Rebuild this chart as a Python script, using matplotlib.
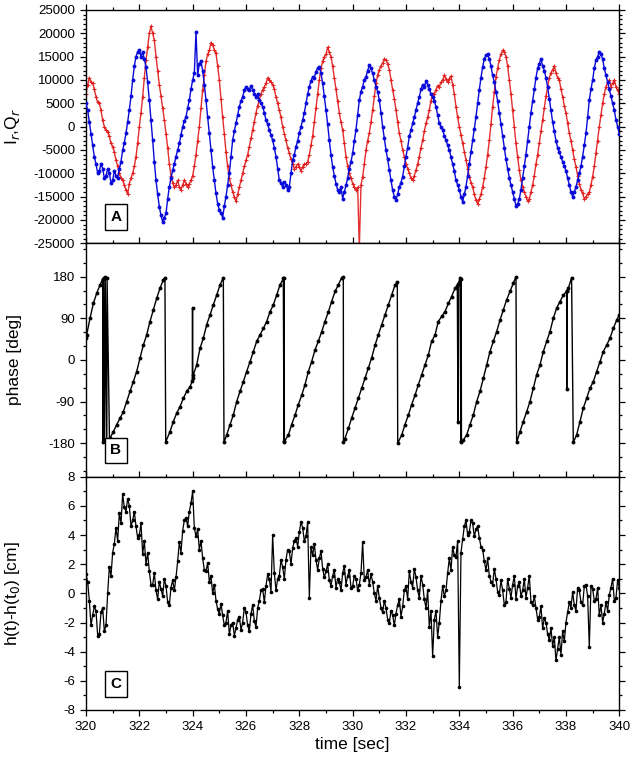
import numpy as np
import matplotlib
matplotlib.use("Agg")
import matplotlib.pyplot as plt
from matplotlib.ticker import MultipleLocator

plt.rcParams['font.family'] = ['Liberation Sans', 'DejaVu Sans']
plt.rcParams['axes.unicode_minus'] = False

# ---------------- data ----------------
t_start = 320.0
t_step = 0.0625

I_r = [5000, 3500, 1000, -1500, -4000, -6500, -8000, -10000, -9500, -8000,
       -9000, -11000, -10500, -9000, -10000, -12000, -11500, -9500, -10500, -11000,
       -9000, -7500, -5000, -3500, -1400, 1000, 3600, 6500, 10000, 13000,
       15000, 16000, 16500, 15000, 16000, 14500, 12800, 9500, 5700, 1500,
       -2900, -7500, -11500, -14500, -17200, -19000, -20400, -19500, -18600, -15500,
       -12900, -11000, -9300, -8000, -6400, -5000, -3600, -1800, 0, 1200,
       2100, 4000, 5700, 8000, 10000, 11500, 20300, 11000, 13500, 14000,
       12000, 9000, 5700, 2000, -1400, -5000, -8600, -11500, -14300, -16500,
       -17900, -18500, -19500, -17000, -15000, -12500, -10000, -6500, -2900, -1000,
       700, 2500, 4300, 5500, 6400, 7800, 8600, 8000, 7900, 8700,
       7900, 7000, 6400, 7000, 5700, 5000, 4300, 3000, 1400, 500,
       -700, -1800, -2900, -4500, -6400, -9000, -11500, -12000, -12900, -11800,
       -12500, -13500, -12900, -10000, -7200, -6000, -4300, -3000, -1400, 0,
       1400, 3000, 5000, 7000, 8600, 9800, 10700, 10500, 11800, 12500,
       12800, 11500, 9300, 6500, 3600, 500, -2900, -6000, -8600, -10500,
       -12200, -13500, -14000, -13000, -15400, -14000, -12600, -11000, -9000, -7500,
       -5700, -3000, -700, 2500, 5700, 7500, 8600, 10000, 10700, 12000,
       13200, 12500, 11400, 10000, 8600, 7500, 5700, 3000, 0, -2500,
       -5000, -7000, -9300, -11500, -13600, -15000, -15700, -14500, -12900, -12000,
       -10700, -8500, -6400, -4500, -2100, -700, 700, 2000, 3600, 5000,
       6400, 8000, 9000, 8500, 9700, 9000, 8000, 7000, 6400, 5500,
       4300, 2500, 700, 0, -700, -2000, -2900, -4000, -5000, -6500,
       -7900, -9500, -11500, -12500, -13600, -15000, -16100, -14500, -12900, -10500,
       -7900, -5500, -2900, -500, 2100, 5000, 7900, 10500, 12800, 14500,
       15300, 15500, 14500, 13000, 11000, 9500, 7500, 5500, 3000, 500,
       -2000, -4500, -7000, -9000, -11000, -12500, -14000, -15500, -17000, -16500,
       -15500, -13500, -11000, -8500, -6000, -3000, 0, 3000, 5500, 8000,
       10500, 12500, 13500, 14500, 13000, 12000, 10500, 8500, 6000, 3500,
       1000, -1000, -3000, -4500, -5500, -6500, -7500, -8500, -9500, -11000,
       -12500, -14000, -15000, -14000, -12900, -11500, -10000, -8500, -6400, -4000,
       -1400, 2000, 5700, 8000, 10000, 12500, 14300, 15000, 16000, 15500,
       14500, 12500, 11000, 9500, 8000, 6500, 5000, 3500, 1500, 0,
       -1500]

Q_r = [7000, 9000, 10500, 9500, 9300, 8000, 6400, 5200, 5000, 3500,
       1400, 0, -700, -1200, -2100, -3500, -4300, -5500, -7200, -8500,
       -10000, -11000, -11500, -12500, -13600, -14500, -12200, -11000, -10000, -8500,
       -6400, -3500, 0, 3000, 6400, 10500, 14300, 17000, 20000, 21500,
       20000, 18500, 15000, 12000, 9000, 6500, 4000, 1500, -1500, -4500,
       -8000, -10500, -12000, -13000, -12500, -11500, -12900, -13500, -12500, -11500,
       -12200, -13000, -12200, -11500, -10500, -8500, -6000, -3000, 0, 4000,
       7900, 11000, 14000, 15500, 16400, 18000, 17500, 16500, 15700, 13000,
       10000, 6000, 2000, -1500, -5500, -8500, -11000, -12500, -14000, -15000,
       -16000, -14500, -12900, -11500, -10000, -8500, -7200, -6000, -4300, -2500,
       -700, 1000, 2900, 4500, 5700, 7000, 7900, 8500, 9300, 10500,
       10000, 9500, 9000, 8000, 6400, 5000, 3600, 2000, 0, -1500,
       -2900, -4500, -5700, -7000, -7900, -9000, -8600, -8000, -8600, -9500,
       -8600, -8000, -8000, -7500, -6000, -4000, -2000, 1000, 4000, 7000,
       10000, 12500, 14000, 15000, 15500, 17000, 16000, 15000, 13000, 10500,
       8000, 5500, 3000, 1000, -700, -3500, -6400, -8500, -10000, -11000,
       -12200, -13000, -13600, -13000, -26000, -12500, -10700, -8000, -5000, -3000,
       -1400, 1000, 3600, 6500, 9300, 11000, 12200, 13000, 13600, 14500,
       14300, 13500, 12200, 10000, 7900, 6000, 3600, 1000, -1400, -3000,
       -5000, -6500, -7900, -9000, -10000, -11000, -11500, -10500, -9300, -8000,
       -6400, -4500, -2900, -1000, 700, 2000, 3600, 5500, 7100, 7000,
       7900, 8800, 8600, 9500, 10000, 11000, 10300, 9500, 10300, 10800,
       9000, 7000, 4300, 2000, 0, -1800, -3600, -5500, -7200, -9000,
       -10700, -12000, -12900, -14500, -15700, -16500, -15500, -14500, -12900, -11000,
       -8600, -6000, -2900, 500, 4300, 7500, 10700, 12500, 14300, 15500,
       16400, 16000, 15000, 13000, 10000, 7000, 3600, 0, -3600, -6500,
       -9300, -11500, -12900, -14000, -15000, -16000, -15500, -14000, -12500, -10500,
       -8000, -6000, -3500, -1000, 1500, 4000, 6500, 8500, 10500, 11500,
       12200, 13000, 11500, 10500, 10000, 8000, 6400, 4500, 2900, 800,
       -1400, -3000, -5000, -7000, -8600, -10500, -12200, -13500, -14300, -15500,
       -15000, -14500, -14000, -12500, -10700, -8500, -5700, -3000, 0, 2500,
       5000, 7000, 8600, 9500, 10000, 8500, 9300, 10000, 8600, 7800,
       7000]

phase_t = [320.000, 320.025, 320.150, 320.275, 320.400, 320.525, 320.625,
           320.630, 320.660, 320.700, 320.720, 320.780, 320.790, 320.880, 320.900,
           321.025, 321.150, 321.275, 321.400, 321.525, 321.650, 321.775, 321.900,
           322.025, 322.150, 322.275, 322.400, 322.525, 322.650, 322.775, 322.900,
           322.960, 322.990, 323.150, 323.275, 323.400, 323.525, 323.650, 323.775,
           323.900, 323.990, 323.995, 324.000, 324.025, 324.150, 324.275, 324.400,
           324.525, 324.650, 324.775, 324.900, 325.025, 325.150, 325.175, 325.275,
           325.400, 325.525, 325.650, 325.775, 325.900, 326.025, 326.150, 326.275,
           326.400, 326.525, 326.650, 326.775, 326.900, 327.025, 327.150, 327.275,
           327.400, 327.425, 327.430, 327.440, 327.590, 327.710, 327.840, 327.960,
           328.090, 328.210, 328.340, 328.460, 328.590, 328.710, 328.840, 328.960,
           329.090, 329.210, 329.340, 329.460, 329.590, 329.650, 329.655, 329.710,
           329.840, 329.960, 330.090, 330.210, 330.340, 330.460, 330.590, 330.710,
           330.840, 330.960, 331.090, 331.210, 331.340, 331.460, 331.590, 331.675,
           331.690, 331.840, 331.960, 332.090, 332.210, 332.340, 332.460, 332.590,
           332.710, 332.840, 332.960, 333.090, 333.210, 333.340, 333.460, 333.590,
           333.710, 333.840, 333.925, 333.950, 333.960, 334.025, 334.060, 334.070,
           334.080, 334.150, 334.275, 334.400, 334.525, 334.650, 334.775, 334.900,
           335.025, 335.150, 335.275, 335.400, 335.525, 335.650, 335.775, 335.900,
           336.025, 336.125, 336.150, 336.275, 336.400, 336.525, 336.650, 336.775,
           336.900, 337.025, 337.150, 337.275, 337.400, 337.525, 337.650, 337.775,
           337.900, 338.025, 338.030, 338.040, 338.090, 338.210, 338.275, 338.400,
           338.525, 338.650, 338.775, 338.900, 339.025, 339.150, 339.275, 339.400,
           339.525, 339.650, 339.775, 339.900, 340.000]
phase_deg = [47, 54, 90, 122, 144, 162, 175,
             -178, 178, -176, 179, -176, 178, -172, -169,
             -155, -140, -126, -112, -90, -68, -47, -25,
             4, 32, 54, 83, 108, 133, 155, 173,
             178, -177, -155, -133, -115, -101, -83, -68,
             -58, -45, 112, -40, -32, -11, 25, 47,
             76, 97, 119, 140, 162, 178, -178, -162,
             -140, -119, -90, -68, -47, -25, -4, 18,
             40, 54, 68, 83, 104, 119, 140, 162,
             176, -178, 177, -176, -162, -140, -119, -97,
             -76, -54, -25, -4, 22, 40, 61, 83,
             104, 126, 148, 162, 178, 179, -178, -170,
             -148, -126, -104, -83, -61, -40, -18, 4,
             32, 54, 76, 97, 119, 140, 162, 169,
             -180, -162, -140, -119, -97, -76, -54, -32,
             -11, 11, 40, 54, 83, 94, 104, 122,
             137, 155, 160, -133, 165, 176, -178, 175,
             -176, -173, -162, -140, -119, -90, -68, -40,
             -11, 18, 40, 61, 86, 108, 130, 148,
             166, 180, -178, -155, -133, -112, -90, -61,
             -32, -11, 18, 40, 61, 90, 112, 126,
             140, 148, -63, 150, 155, 178, -178, -162,
             -133, -104, -83, -61, -47, -25, -4, 18,
             32, 47, 68, 86, 97]

h_cm = [1.3, 0.8, -0.5, -2.2, -1.5, -0.9, -1.2, -2.9, -2.8, -1.3,
        -1.0, -2.6, -2.2, 0.0, 1.8, 1.2, 2.8, 3.4, 4.5, 3.6,
        5.5, 4.8, 6.8, 5.9, 5.6, 6.5, 6.0, 4.6, 5.0, 5.6,
        4.6, 3.8, 4.0, 4.8, 2.7, 3.6, 2.0, 2.8, 1.5, 0.6,
        0.6, 1.4, 0.2, -0.4, 0.8, 0.3, -0.2, 1.0, 0.5, -0.6,
        -0.8, 0.4, 0.9, 0.2, 1.1, 2.2, 3.5, 2.8, 4.3, 5.0,
        5.2, 4.6, 5.6, 6.2, 7.0, 4.5, 3.9, 4.4, 3.0, 3.6,
        2.4, 1.6, 1.5, 2.1, 0.8, 1.2, 0.0, 0.6, -0.5, -1.1,
        -1.4, -0.7, -1.5, -2.2, -2.0, -1.2, -2.8, -2.2, -2.0, -2.9,
        -2.4, -1.8, -1.6, -2.5, -2.0, -1.0, -1.3, -2.2, -2.6, -1.4,
        -0.8, -1.9, -2.3, -1.0, -0.5, 0.2, 0.3, -0.6, 0.5, 1.3,
        1.0, 0.1, 4.0, 1.4, 0.2, 1.0, 1.2, 2.3, 1.8, 1.0,
        2.3, 3.0, 2.9, 2.0, 3.1, 3.6, 3.8, 3.2, 4.2, 4.9,
        4.5, 3.6, 3.9, 4.9, -0.3, 3.2, 2.6, 3.4, 2.3, 1.6,
        2.4, 2.9, 1.7, 1.1, 1.5, 2.0, 0.9, 0.5, 1.2, 1.6,
        0.4, 1.0, 0.8, 0.2, 1.4, 1.9, 0.6, 1.2, 1.6, 0.4,
        0.5, 1.2, 1.0, 0.2, 0.6, 1.4, 3.5, 0.9, 1.1, 1.6,
        0.6, 1.3, 0.8, 0.0, -0.5, 0.5, -0.3, -1.0, -1.3, -0.5,
        -1.0, -1.8, -2.0, -1.2, -1.5, -2.2, -1.4, -0.8, -0.4, -1.6,
        -0.9, 0.2, 0.5, -0.4, 1.5, 0.8, 0.4, 1.7, 1.1, 0.2,
        -0.3, 1.2, 0.6, -0.4, -1.0, 0.2, -2.3, -1.2, -4.3, -1.8,
        -1.2, -3.0, -2.0, -0.5, 0.5, -0.2, 0.2, 1.4, 2.4, 1.6,
        3.2, 2.6, 2.5, 3.6, -6.4, 2.8, 3.7, 4.6, 5.0, 4.0,
        4.2, 5.0, 4.8, 3.9, 4.4, 4.6, 3.8, 3.2, 3.0, 2.2,
        1.6, 2.4, 1.2, 0.8, 0.6, 1.7, 1.0, 0.1, -0.1, 0.9,
        0.2, -0.8, -0.6, 1.0, 0.3, -0.3, 0.6, 1.2, -0.4, 0.5,
        0.8, -0.2, 0.2, 1.0, -0.3, 0.4, 1.2, -0.6, -0.8, -0.2,
        -1.0, -1.8, -1.6, -0.9, -2.4, -1.7, -2.0, -2.8, -3.2, -2.4,
        -3.6, -3.0, -4.6, -3.8, -3.0, -4.2, -2.6, -3.3, -2.0, -1.3,
        -0.6, -1.0, 0.1, -0.8, -1.2, 0.4, 0.2, -0.6, -0.8, 0.5,
        0.6, -0.2, -3.7, 0.5, 0.3, -0.5, -0.4, 0.4, -1.5, -0.8,
        -2.0, -1.4, -0.6, -1.2, -0.1, 0.4, 1.0, -0.5, -0.3, 0.9,
        0.4]

panel_letters = ["A", "B", "C"]
ylabels = [r"I$_r$,Q$_r$", "phase [deg]", r"h(t)-h(t$_0$) [cm]"]
xlabel = "time [sec]"

# ---------------- figure ----------------
t_iq = t_start + t_step * np.arange(len(I_r))
t_h = t_start + t_step * np.arange(len(h_cm))

fig = plt.figure(figsize=(6.3, 7.67), dpi=100)
left, width = 86 / 630, (619.3 - 86) / 630
ph = 233.3 / 767
bottoms = [1 - 243.3 / 767, 1 - 476.6 / 767, 1 - 710 / 767]
axes = [fig.add_axes([left, b, width, ph]) for b in bottoms]

axA, axB, axC = axes
axA.plot(t_iq, Q_r, color='#e01818', lw=1.0, marker='+', ms=3, mew=0.8,
         alpha=0.9, zorder=2)
axA.plot(t_iq, I_r, color='#0a0ad8', lw=1.0, marker='o', ms=2.8, mew=0,
         zorder=3)
axA.set_ylim(-25000, 25000)
axA.yaxis.set_major_locator(MultipleLocator(5000))
axA.yaxis.set_minor_locator(MultipleLocator(1000))

axB.plot(phase_t, phase_deg, color='black', lw=1.0, marker='o', ms=2.8, mew=0)
axB.set_ylim(-252, 252)
axB.set_yticks([-180, -90, 0, 90, 180])
axB.yaxis.set_minor_locator(MultipleLocator(30))

axC.plot(t_h, h_cm, color='black', lw=0.9, marker='o', ms=2.6, mew=0)
axC.set_ylim(-8, 8)
axC.yaxis.set_major_locator(MultipleLocator(2))
axC.yaxis.set_minor_locator(MultipleLocator(1))

for i, ax in enumerate(axes):
    ax.set_xlim(320, 340)
    ax.xaxis.set_major_locator(MultipleLocator(2))
    ax.xaxis.set_minor_locator(MultipleLocator(1))
    ax.tick_params(which='both', direction='out', top=True, right=True,
                   labelsize=9.5, width=0.9)
    ax.tick_params(which='major', length=4.5)
    ax.tick_params(which='minor', length=2.5)
    if i < 2:
        ax.tick_params(labelbottom=False)
    for s in ax.spines.values():
        s.set_linewidth(1.0)
    ax.set_ylabel(ylabels[i], fontsize=12.5)
    ax.yaxis.set_label_coords(-0.12, 0.5)
    ax.text(0.056, 0.112, panel_letters[i], transform=ax.transAxes,
            fontsize=11, fontweight='bold', ha='center', va='center',
            bbox=dict(boxstyle='square,pad=0.38', fc='white', ec='black', lw=1.0))

axC.set_xlabel(xlabel, fontsize=12.5, labelpad=3)

fig.savefig("out.png", dpi=100)
